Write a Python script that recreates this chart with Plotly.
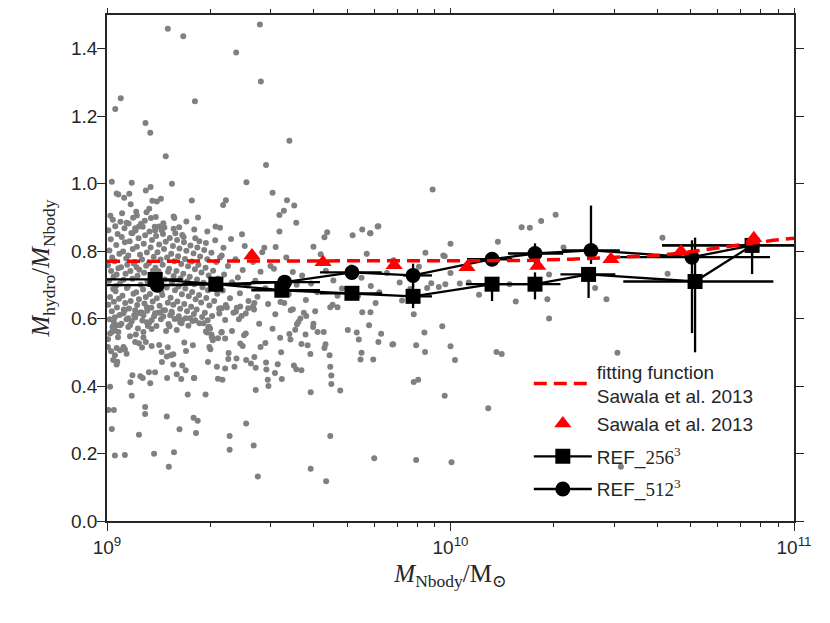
import numpy as np
import plotly.graph_objects as go

# individual haloes: (log10 M_Nbody, M_hydro/M_Nbody)
halos_high = [
    (9.177, 1.459), (9.222, 1.437), (9.445, 1.472), (9.376, 1.389), (9.448, 1.303),
    (9.040, 1.253), (9.024, 1.221), (9.256, 1.244), (9.112, 1.180), (9.126, 1.151),
    (9.531, 1.127), (9.171, 1.081), (9.463, 1.055), (9.014, 1.006), (9.072, 1.003),
    (9.189, 1.000), (9.406, 1.004), (9.948, 0.983), (9.028, 0.971), (9.033, 0.968),
    (9.065, 0.970), (9.050, 0.958), (9.113, 0.980), (9.127, 0.990), (9.482, 0.973),
    (9.069, 0.939), (9.132, 0.949), (9.145, 0.947), (9.157, 0.955), (9.247, 0.950),
    (9.346, 0.951), (9.338, 0.937), (9.524, 0.951), (9.545, 0.935), (9.515, 0.920),
    (9.502, 0.907), (9.551, 0.884), (9.123, 0.926), (9.017, 0.893), (9.057, 0.884),
    (9.085, 0.917), (9.087, 0.906), (9.115, 0.915), (9.128, 0.898), (9.142, 0.901),
    (9.194, 0.903), (9.196, 0.898), (9.231, 0.888), (9.265, 0.900), (9.502, 0.858),
    (9.641, 0.856), (9.633, 0.841), (9.715, 0.847), (9.743, 0.864), (9.766, 0.853),
    (9.790, 0.874), (9.393, 0.850), (9.316, 0.873), (9.329, 0.869), (9.292, 0.858),
    (9.254, 0.864), (9.210, 0.871), (9.194, 0.866), (9.164, 0.883), (9.152, 0.873),
    (9.140, 0.861), (9.093, 0.873), (9.082, 0.868), (9.074, 0.853),
]

halos_mid = [
    (10.306, 0.908), (10.264, 0.889), (10.207, 0.871), (10.231, 0.869), (10.138, 0.828),
    (10.000, 0.822), (9.927, 0.795), (9.983, 0.785), (10.329, 0.811), (10.617, 0.840),
    (10.632, 0.733), (10.287, 0.731), (10.000, 0.735), (9.966, 0.694), (9.985, 0.702),
    (10.027, 0.704), (10.053, 0.707), (9.932, 0.691), (10.083, 0.671), (10.190, 0.651),
    (10.282, 0.657), (10.421, 0.691), (10.454, 0.657), (9.859, 0.654), (9.893, 0.613),
    (10.287, 0.600), (9.976, 0.577), (9.924, 0.559), (9.833, 0.524), (9.900, 0.521),
    (10.000, 0.518), (9.926, 0.501), (10.013, 0.477), (10.134, 0.501), (10.149, 0.495),
    (10.486, 0.499), (9.893, 0.412), (9.906, 0.419), (9.983, 0.371), (10.110, 0.334),
    (9.900, 0.181), (10.003, 0.174), (10.496, 0.161), (9.767, 0.853), (9.788, 0.873),
    (9.979, 0.787), (10.172, 0.702),
]

halos_low = [
    (9.009, 0.398), (9.020, 0.329), (9.004, 0.329), (9.014, 0.273), (9.023, 0.194),
    (9.052, 0.196), (9.072, 0.371), (9.111, 0.338), (9.111, 0.317), (9.093, 0.256),
    (9.137, 0.199), (9.174, 0.310), (9.180, 0.161), (9.195, 0.204), (9.211, 0.272),
    (9.235, 0.375), (9.252, 0.306), (9.264, 0.297), (9.259, 0.261), (9.287, 0.375),
    (9.254, 0.424), (9.357, 0.252), (9.357, 0.211), (9.405, 0.289), (9.427, 0.224),
    (9.439, 0.132), (9.433, 0.388), (9.593, 0.382), (9.593, 0.155), (9.638, 0.118),
    (9.650, 0.252), (9.679, 0.387), (9.778, 0.186), (9.653, 0.406), (9.653, 0.431),
    (9.650, 0.457), (9.648, 0.491), (9.636, 0.524), (9.633, 0.513), (9.592, 0.495),
    (9.584, 0.521), (9.566, 0.525), (9.578, 0.553), (9.600, 0.575), (9.601, 0.585),
    (9.613, 0.560), (9.631, 0.560), (9.701, 0.566), (9.727, 0.559), (9.733, 0.538),
    (9.741, 0.499), (9.738, 0.479), (9.775, 0.479), (9.763, 0.580), (9.798, 0.555),
    (9.790, 0.531), (9.831, 0.523), (9.743, 0.619), (9.767, 0.619), (9.782, 0.646),
    (9.671, 0.634), (9.650, 0.634), (9.657, 0.641), (9.606, 0.622), (9.573, 0.617),
    (9.580, 0.608), (9.563, 0.600), (9.557, 0.590), (9.553, 0.583), (9.548, 0.567),
    (9.541, 0.628), (9.516, 0.646), (9.504, 0.543), (9.534, 0.538), (9.531, 0.554),
    (9.507, 0.500), (9.497, 0.465), (9.489, 0.439), (9.509, 0.421), (9.482, 0.570),
    (9.490, 0.613), (9.468, 0.419), (9.470, 0.400), (9.463, 0.470), (9.464, 0.449),
    (9.544, 0.461), (9.551, 0.450), (9.566, 0.447), (9.461, 0.528), (9.447, 0.516),
    (9.443, 0.585), (9.433, 0.454), (9.419, 0.467), (9.405, 0.477), (9.429, 0.486),
    (9.399, 0.551), (9.404, 0.556), (9.388, 0.526), (9.395, 0.519), (9.377, 0.482),
    (9.371, 0.457), (9.354, 0.498), (9.353, 0.480), (9.344, 0.452), (9.364, 0.563),
    (9.344, 0.541), (9.334, 0.560), (9.320, 0.457), (9.323, 0.422), (9.336, 0.419),
    (9.301, 0.509), (9.298, 0.516), (9.307, 0.543), (9.304, 0.553), (9.294, 0.471),
    (9.288, 0.562), (9.297, 0.576), (9.344, 0.596), (9.384, 0.598), (9.375, 0.620),
    (9.349, 0.633), (9.327, 0.630), (9.327, 0.615), (9.404, 0.615), (9.411, 0.631),
    (9.425, 0.636), (9.429, 0.646), (9.388, 0.636), (9.250, 0.521), (9.230, 0.504),
    (9.225, 0.529), (9.253, 0.424), (9.229, 0.447), (9.219, 0.461), (9.216, 0.421),
    (9.203, 0.435), (9.193, 0.464), (9.186, 0.491), (9.193, 0.494), (9.174, 0.488),
    (9.160, 0.471), (9.177, 0.515), (9.152, 0.522), (9.159, 0.501), (9.175, 0.424),
    (9.126, 0.408), (9.122, 0.441), (9.140, 0.441), (9.104, 0.424), (9.097, 0.429),
    (9.074, 0.432), (9.068, 0.411), (9.130, 0.519), (9.102, 0.514), (9.093, 0.527),
    (9.082, 0.531), (9.084, 0.553), (9.106, 0.544), (9.113, 0.531), (9.028, 0.464),
    (9.018, 0.477), (9.030, 0.472), (9.023, 0.491), (9.012, 0.503), (9.003, 0.516),
    (9.028, 0.513), (9.038, 0.506), (9.052, 0.509), (9.057, 0.496), (9.048, 0.516),
    (9.009, 0.556), (9.014, 0.560), (9.023, 0.565), (9.033, 0.560), (9.020, 0.590),
    (9.028, 0.580), (9.018, 0.575), (9.038, 0.580), (9.062, 0.575), (9.067, 0.580),
    (9.062, 0.601), (9.048, 0.616), (9.052, 0.625), (9.082, 0.625), (9.091, 0.616),
    (9.101, 0.618), (9.106, 0.610), (9.116, 0.634), (9.116, 0.589), (9.130, 0.595),
    (9.140, 0.616), (9.155, 0.618), (9.164, 0.625), (9.184, 0.610), (9.189, 0.616),
    (9.208, 0.601), (9.213, 0.589), (9.219, 0.595), (9.242, 0.601), (9.257, 0.595),
    (9.269, 0.586), (9.281, 0.586), (9.295, 0.574), (9.300, 0.571), (9.291, 0.559),
    (9.305, 0.545), (9.308, 0.536), (9.323, 0.542), (9.333, 0.559), (9.334, 0.631),
]

halos_core = [
    (9.004, 0.862), (9.011, 0.835), (9.007, 0.802), (9.015, 0.781), (9.003, 0.758),
    (9.012, 0.741), (9.006, 0.712), (9.018, 0.688), (9.009, 0.664), (9.004, 0.641),
    (9.014, 0.622), (9.008, 0.598), (9.016, 0.576), (9.003, 0.539), (9.010, 0.905),
    (9.019, 0.724), (9.020, 0.650),
    (9.024, 0.874), (9.031, 0.851), (9.027, 0.818), (9.036, 0.792), (9.022, 0.770),
    (9.033, 0.749), (9.028, 0.731), (9.038, 0.704), (9.025, 0.681), (9.035, 0.659),
    (9.029, 0.633), (9.037, 0.611), (9.023, 0.604), (9.032, 0.545), (9.039, 0.887),
    (9.026, 0.697),
    (9.043, 0.842), (9.052, 0.826), (9.047, 0.799), (9.056, 0.778), (9.041, 0.752),
    (9.054, 0.733), (9.048, 0.715), (9.058, 0.691), (9.045, 0.668), (9.053, 0.646),
    (9.049, 0.627), (9.057, 0.598), (9.044, 0.912), (9.051, 0.868), (9.059, 0.760),
    (9.042, 0.585),
    (9.063, 0.882), (9.071, 0.854), (9.066, 0.829), (9.075, 0.806), (9.062, 0.787),
    (9.078, 0.763), (9.068, 0.741), (9.074, 0.718), (9.061, 0.695), (9.077, 0.674),
    (9.069, 0.652), (9.064, 0.630), (9.079, 0.610), (9.072, 0.592), (9.067, 0.548),
    (9.076, 0.899),
    (9.083, 0.861), (9.092, 0.838), (9.087, 0.813), (9.096, 0.789), (9.081, 0.768),
    (9.094, 0.745), (9.089, 0.727), (9.098, 0.700), (9.085, 0.678), (9.093, 0.657),
    (9.088, 0.640), (9.097, 0.618), (9.082, 0.603), (9.099, 0.881), (9.090, 0.571),
    (9.086, 0.752),
    (9.104, 0.872), (9.111, 0.847), (9.107, 0.822), (9.116, 0.796), (9.102, 0.775),
    (9.114, 0.757), (9.108, 0.736), (9.118, 0.709), (9.105, 0.686), (9.113, 0.664),
    (9.109, 0.645), (9.117, 0.623), (9.103, 0.594), (9.119, 0.578), (9.110, 0.890),
    (9.106, 0.560),
    (9.124, 0.858), (9.131, 0.833), (9.127, 0.811), (9.136, 0.783), (9.122, 0.764),
    (9.134, 0.742), (9.128, 0.720), (9.138, 0.696), (9.125, 0.673), (9.133, 0.651),
    (9.129, 0.632), (9.137, 0.607), (9.123, 0.588), (9.139, 0.872), (9.130, 0.569),
    (9.143, 0.845), (9.152, 0.820), (9.147, 0.797), (9.156, 0.775), (9.141, 0.751),
    (9.154, 0.731), (9.148, 0.703), (9.158, 0.681), (9.145, 0.660), (9.153, 0.638),
    (9.149, 0.617), (9.157, 0.598), (9.144, 0.578), (9.159, 0.862), (9.150, 0.740),
    (9.163, 0.851), (9.171, 0.828), (9.166, 0.806), (9.175, 0.781), (9.162, 0.760),
    (9.178, 0.739), (9.168, 0.716), (9.174, 0.692), (9.161, 0.670), (9.177, 0.647),
    (9.169, 0.625), (9.164, 0.606), (9.179, 0.584), (9.172, 0.563), (9.167, 0.870),
    (9.183, 0.839), (9.192, 0.815), (9.187, 0.792), (9.196, 0.770), (9.181, 0.748),
    (9.194, 0.726), (9.189, 0.707), (9.198, 0.684), (9.185, 0.662), (9.193, 0.641),
    (9.188, 0.620), (9.197, 0.599), (9.182, 0.577), (9.199, 0.853),
    (9.204, 0.833), (9.211, 0.808), (9.207, 0.785), (9.216, 0.762), (9.202, 0.741),
    (9.214, 0.719), (9.208, 0.695), (9.218, 0.672), (9.205, 0.651), (9.213, 0.629),
    (9.209, 0.607), (9.217, 0.586), (9.203, 0.566), (9.219, 0.848),
    (9.224, 0.826), (9.231, 0.801), (9.227, 0.777), (9.236, 0.755), (9.222, 0.733),
    (9.234, 0.711), (9.228, 0.689), (9.238, 0.666), (9.225, 0.643), (9.233, 0.622),
    (9.229, 0.601), (9.237, 0.579), (9.223, 0.842),
    (9.243, 0.817), (9.252, 0.793), (9.247, 0.769), (9.256, 0.746), (9.241, 0.724),
    (9.254, 0.702), (9.248, 0.679), (9.258, 0.657), (9.245, 0.635), (9.253, 0.614),
    (9.249, 0.593), (9.257, 0.838),
    (9.263, 0.811), (9.271, 0.784), (9.266, 0.760), (9.275, 0.737), (9.262, 0.716),
    (9.278, 0.693), (9.268, 0.670), (9.274, 0.648), (9.261, 0.627), (9.277, 0.605),
    (9.269, 0.829),
    (9.283, 0.803), (9.292, 0.776), (9.287, 0.751), (9.296, 0.728), (9.281, 0.706),
    (9.294, 0.684), (9.289, 0.661), (9.298, 0.639), (9.285, 0.617), (9.293, 0.595),
    (9.288, 0.824),
    (9.304, 0.795), (9.318, 0.768), (9.309, 0.742), (9.324, 0.719), (9.302, 0.697),
    (9.321, 0.674), (9.312, 0.652), (9.327, 0.629), (9.306, 0.608), (9.315, 0.832),
    (9.329, 0.781),
    (9.334, 0.787), (9.352, 0.756), (9.341, 0.731), (9.364, 0.708), (9.337, 0.683),
    (9.358, 0.660), (9.346, 0.640), (9.368, 0.617), (9.339, 0.810), (9.361, 0.836),
    (9.374, 0.776), (9.395, 0.744), (9.381, 0.722), (9.408, 0.699), (9.387, 0.675),
    (9.412, 0.652), (9.378, 0.632), (9.401, 0.815), (9.418, 0.790), (9.392, 0.608),
    (9.425, 0.768), (9.447, 0.739), (9.432, 0.712), (9.461, 0.690), (9.438, 0.665),
    (9.469, 0.643), (9.452, 0.797), (9.476, 0.756), (9.428, 0.627), (9.458, 0.810),
    (9.486, 0.748), (9.512, 0.719), (9.497, 0.695), (9.529, 0.672), (9.505, 0.649),
    (9.541, 0.738), (9.522, 0.781), (9.552, 0.700), (9.491, 0.812), (9.535, 0.625),
    (9.568, 0.728), (9.594, 0.704), (9.612, 0.678), (9.579, 0.655), (9.637, 0.742),
    (9.659, 0.713), (9.622, 0.791), (9.684, 0.689), (9.601, 0.813), (9.671, 0.668),
    (9.712, 0.752), (9.741, 0.721), (9.768, 0.697), (9.793, 0.678), (9.731, 0.668),
    (9.815, 0.735), (9.852, 0.707), (9.883, 0.688), (9.756, 0.792), (9.908, 0.754),
    (9.834, 0.773), (9.944, 0.705),
]

# Sawala et al. 2013 fitting function
fit_logm = [9.0, 9.5, 10.0, 10.2, 10.35, 10.51, 10.6, 10.67, 10.76, 10.85, 10.94, 11.0]
fit_ratio = [0.770, 0.770, 0.770, 0.772, 0.776, 0.782, 0.787, 0.794, 0.807, 0.820, 0.832, 0.838]

# Sawala et al. 2013 points
sawala_logm = [9.422, 9.629, 9.836, 10.048, 10.254, 10.467, 10.671, 10.883]
sawala_ratio = [0.787, 0.767, 0.758, 0.752, 0.756, 0.776, 0.799, 0.838]

# REF_256^3 medians
ref256_logm = [9.140, 9.317, 9.509, 9.713, 9.891, 10.121, 10.246, 10.402, 10.712, 10.878]
ref256_ratio = [0.716, 0.702, 0.684, 0.675, 0.666, 0.702, 0.702, 0.731, 0.710, 0.817]
ref256_lo = [8.85, 9.22, 9.42, 9.62, 9.875, 10.045, 10.175, 10.32, 10.503, 10.616]
ref256_hi = [9.22, 9.42, 9.62, 9.80, 9.946, 10.17, 10.32, 10.48, 10.94, 11.1]
ref256_eplus = [0.02, 0.02, 0.02, 0.02, 0.035, 0.02, 0.035, 0.02, 0.13, 0.02]
ref256_eminus = [0.02, 0.02, 0.02, 0.02, 0.035, 0.05, 0.045, 0.07, 0.21, 0.03]

# REF_512^3 medians
ref512_logm = [9.146, 9.317, 9.517, 9.713, 9.891, 10.121, 10.246, 10.409, 10.703, 10.878]
ref512_ratio = [0.699, 0.702, 0.708, 0.737, 0.728, 0.776, 0.793, 0.802, 0.782, 0.817]
ref512_lo = [8.85, 9.22, 9.42, 9.62, 9.862, 10.048, 10.167, 10.325, 10.494, 10.616]
ref512_hi = [9.22, 9.42, 9.62, 9.80, 9.946, 10.18, 10.328, 10.493, 10.93, 11.1]
ref512_eplus = [0.015, 0.015, 0.02, 0.02, 0.035, 0.02, 0.03, 0.133, 0.05, 0.03]
ref512_eminus = [0.015, 0.015, 0.02, 0.02, 0.035, 0.02, 0.03, 0.04, 0.225, 0.085]

halos = halos_high + halos_mid + halos_low + halos_core
halo_m = [10 ** p[0] for p in halos]
halo_r = [p[1] for p in halos]

INK = '#262626'
SERIF = 'Liberation Serif, DejaVu Serif, serif'

fig = go.Figure()

fig.add_trace(go.Scatter(
    x=halo_m, y=halo_r, mode='markers',
    marker=dict(size=6, color='#808080', line=dict(width=0)),
    showlegend=False, hoverinfo='skip'
))


def ref_trace(logm, ratio, lo, hi, ep, em, symbol, name, rank):
    m = 10 ** np.array(logm)
    return go.Scatter(
        x=m, y=ratio, mode='lines+markers', name=name,
        line=dict(color='black', width=2.3),
        marker=dict(symbol=symbol, size=15, color='black'),
        error_x=dict(type='data', symmetric=False,
                     array=10 ** np.array(hi) - m,
                     arrayminus=m - 10 ** np.array(lo),
                     color='black', thickness=2.3, width=0),
        error_y=dict(type='data', symmetric=False, array=ep, arrayminus=em,
                     color='black', thickness=2.3, width=0),
        legendrank=rank, legendgroup=name
    )


fig.add_trace(ref_trace(ref256_logm, ref256_ratio, ref256_lo, ref256_hi,
                        ref256_eplus, ref256_eminus, 'square',
                        "REF_<span style='font-family:Liberation Serif'>256<sup>3</sup></span>", 3))
fig.add_trace(ref_trace(ref512_logm, ref512_ratio, ref512_lo, ref512_hi,
                        ref512_eplus, ref512_eminus, 'circle',
                        "REF_<span style='font-family:Liberation Serif'>512<sup>3</sup></span>", 4))

fig.add_trace(go.Scatter(
    x=[10 ** v for v in fit_logm], y=fit_ratio, mode='lines',
    name='fitting function<br>Sawala et al. 2013',
    line=dict(color='red', width=3.5, dash='13px,7px'),
    legendrank=1, legendgroup='sawala'
))

fig.add_trace(go.Scatter(
    x=[10 ** v for v in sawala_logm], y=sawala_ratio, mode='markers',
    name='Sawala et al. 2013',
    marker=dict(symbol='triangle-up', size=15, color='red'),
    legendrank=2, legendgroup='sawala'
))

# the page body adds an 8px offset, so the figure is a little smaller
fig.update_layout(
    width=822, height=615,
    margin=dict(l=99, r=36, t=7, b=102, autoexpand=False),
    plot_bgcolor='white', paper_bgcolor='white',
    font=dict(family='Liberation Sans, Arial, sans-serif', size=19, color=INK),
    legend=dict(x=0.614, y=0.025, xanchor='left', yanchor='bottom',
                bgcolor='rgba(0,0,0,0)', font=dict(size=19),
                itemwidth=58, tracegroupgap=5, traceorder='grouped'),
)

fig.update_xaxes(
    type='log', range=[9, 11], automargin=False,
    tickvals=[1e9, 1e10, 1e11],
    ticktext=['10<sup>9</sup>', '10<sup>10</sup>', '10<sup>11</sup>'],
    ticks='outside', ticklen=8, tickwidth=1.3, tickcolor=INK,
    showline=True, linecolor=INK, linewidth=1.5, mirror='ticks',
    showgrid=False, zeroline=False,
    minor=dict(tickvals=[k * 10 ** e for e in (9, 10) for k in range(2, 10)],
               ticks='outside', ticklen=4, tickwidth=1, tickcolor=INK, showgrid=False),
    title=dict(text='<i>M</i><sub>Nbody</sub>/M<sub>⊙</sub>',
               font=dict(family=SERIF, size=25), standoff=8),
)

fig.update_yaxes(
    range=[0, 1.5], automargin=False,
    tickvals=[0, 0.2, 0.4, 0.6, 0.8, 1.0, 1.2, 1.4], tickformat='.1f',
    ticks='outside', ticklen=8, tickwidth=1.3, tickcolor=INK, ticklabelstandoff=-4,
    showline=True, linecolor=INK, linewidth=1.5, mirror='ticks',
    showgrid=False, zeroline=False,
    title=dict(text='<i>M</i><sub>hydro</sub>/<i>M</i><sub>Nbody</sub>',
               font=dict(family=SERIF, size=25), standoff=14),
)

fig.write_html("out.html")
